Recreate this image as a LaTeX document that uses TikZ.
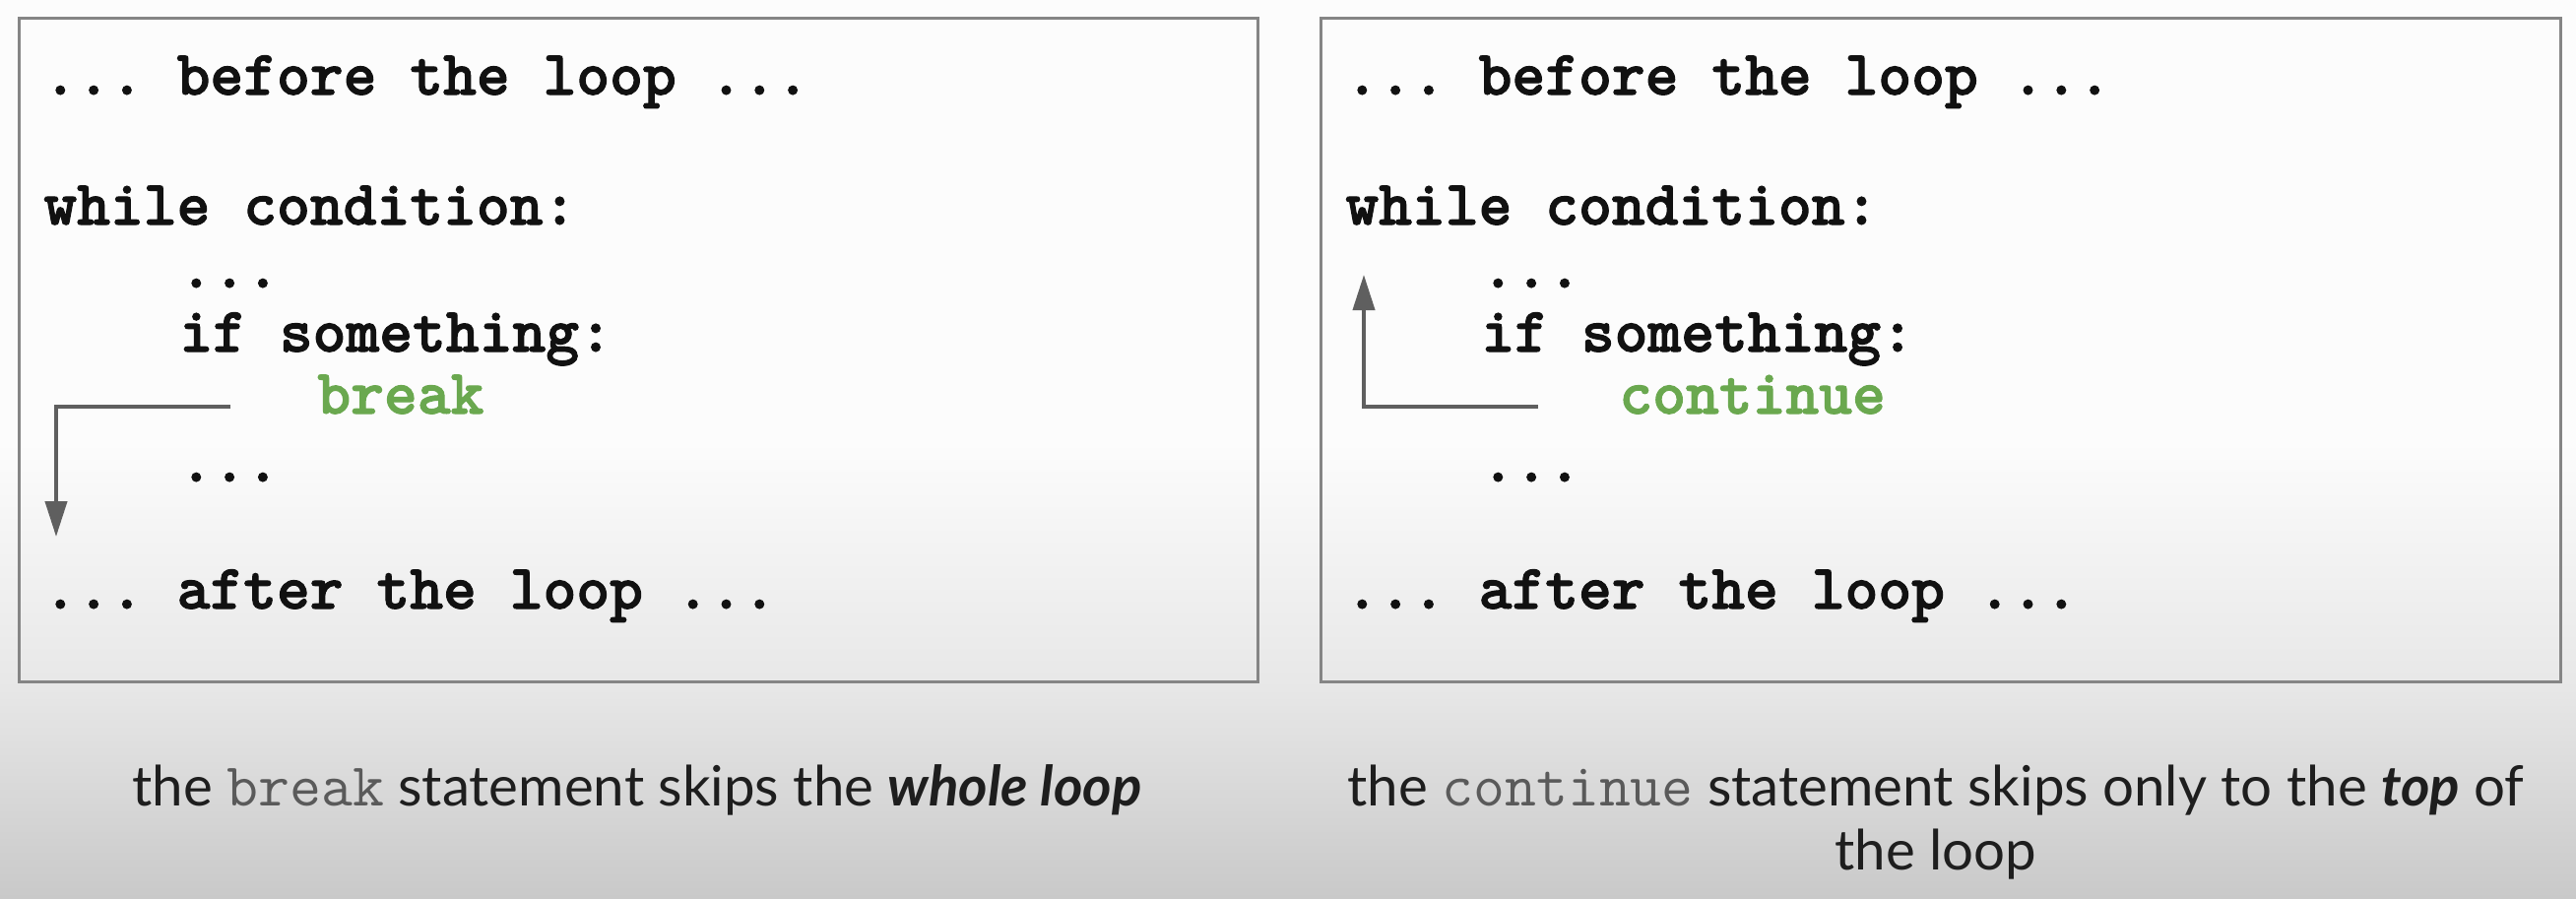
\documentclass[tikz,border=0pt]{standalone}
\usepackage{fontspec}
\setmainfont{Lato}
\newfontfamily\codefont{lmmonolt10-bold.otf}[FakeBold=1.6]
\usetikzlibrary{arrows.meta}
\definecolor{codegreen}{HTML}{6AA84F}
\definecolor{arrowgray}{HTML}{5F5F5F}
\definecolor{boxgray}{HTML}{858585}
\definecolor{bgtop}{HTML}{FCFCFC}
\definecolor{bgmid}{HTML}{E7E7E7}
\definecolor{bgbot}{HTML}{C9C9C9}
\definecolor{capmono}{HTML}{5A5A5A}
\definecolor{codeblack}{HTML}{111111}
\definecolor{captext}{HTML}{1E1E1E}
\frenchspacing
\tikzset{
  code/.style={anchor=base west, inner sep=0pt, font=\fontsize{32.2pt}{38pt}\selectfont\codefont\frenchspacing, text=codeblack},
  kw/.style={code, text=codegreen},
  panel/.style={draw=boxgray, line width=1.5pt, anchor=north west, inner sep=0pt, minimum width=629pt, minimum height=337pt},
  jump/.style={draw=arrowgray, line width=2pt, -{Triangle[length=18pt,width=11pt]}},
  caption/.style={anchor=base, inner sep=0pt, align=center, font=\fontsize{28.2pt}{32.5pt}\selectfont, text=captext}
}
\newcommand{\capcode}[1]{{\fontsize{31pt}{32.5pt}\selectfont\ttfamily\mdseries\color{capmono}#1}}
\begin{document}
\begin{tikzpicture}[x=0.5pt,y=-0.5pt]
\useasboundingbox (0,0) rectangle (2616,912);
% background
\fill[bgtop] (0,0) rectangle (2616,450);
\shade[top color=bgtop, bottom color=bgmid] (0,449) rectangle (2616,700);
\shade[top color=bgmid, bottom color=bgbot] (0,699) rectangle (2616,912);
% panels
\node[panel] (leftbox) at (18,17) {};
\node[panel, minimum width=629.5pt] (rightbox) at (1340,17) {};
% left code
\node[code] (lbefore) at (44,96) {... before the loop ...};
\node[code] (lwhile) at (44,228) {while condition:};
\node[code] (ldots1) at (182,292) {...};
\node[code] (lif) at (182,357) {if something:};
\node[kw] (lbreak) at (322,420) {break};
\node[code] (ldots2) at (182,489) {...};
\node[code] (lafter) at (44,618) {... after the loop ...};
% right code
\node[code] (rbefore) at (1366,96) {... before the loop ...};
\node[code] (rwhile) at (1366,228) {while condition:};
\node[code] (rdots1) at (1504,292) {...};
\node[code] (rif) at (1504,357) {if something:};
\node[kw] (rcont) at (1644,420) {continue};
\node[code] (rdots2) at (1504,489) {...};
\node[code] (rafter) at (1366,618) {... after the loop ...};
% arrows
\coordinate (lstart) at (234,413);
\coordinate (lcorner) at (57,413);
\coordinate (lend) at (57,545);
\draw[jump] (lstart) -- (lcorner) -- (lend);
\coordinate (rstart) at (1562,413);
\coordinate (rcorner) at (1385,413);
\coordinate (rend) at (1385,279);
\draw[jump] (rstart) -- (rcorner) -- (rend);
% captions
\node[caption] (capL) at (647,818) {the \capcode{break} statement skips the \textbf{\textit{whole loop}}};
\node[caption] (capR) at (1966,818) {the \capcode{continue} statement skips only to the \textbf{\textit{top}} of};
\node[caption] (capR2) at (1966,883) {the loop};
\end{tikzpicture}
\end{document}
